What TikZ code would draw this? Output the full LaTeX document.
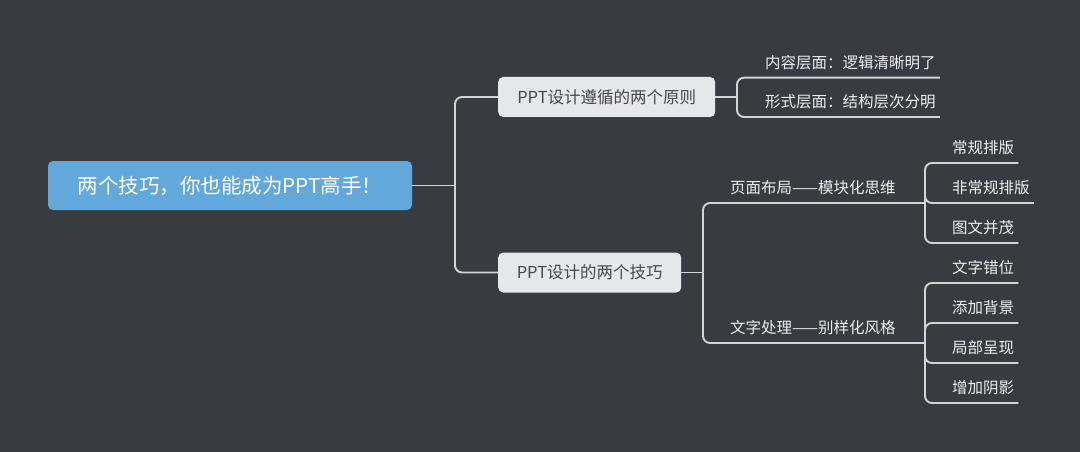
\documentclass[tikz,border=0pt]{standalone}
\usepackage{fontspec}
\setmainfont{Noto Sans CJK SC}

\definecolor{bgcolor}{HTML}{3A3B40}
\definecolor{rootblue}{HTML}{62A8DA}
\definecolor{boxgray}{HTML}{E6E7E9}
\definecolor{boxtext}{HTML}{48484B}
\definecolor{linegray}{HTML}{D4D4D4}
\definecolor{labeltext}{HTML}{EDEDED}

\tikzset{
  branch/.style={draw=linegray,line width=1.9pt,rounded corners=7pt},
  rootbox/.style={fill=rootblue,rounded corners=5pt,text=white,inner sep=0,minimum width=364pt,minimum height=49pt,font=\rootfontsize},
  topicbox/.style={fill=boxgray,rounded corners=5pt,text=boxtext,inner sep=0,minimum height=40pt,font=\topicfontsize},
  leaflabel/.style={anchor=south west,inner xsep=4pt,inner ysep=8pt,text=labeltext,font=\labelfontsize},
}

\begin{document}
\begin{tikzpicture}[x=1pt,y=-1pt]
    \providecommand{\rootfontsize}{\fontsize{20.5pt}{24pt}\selectfont}
    \providecommand{\topicfontsize}{\fontsize{16.5pt}{20pt}\selectfont}
    \providecommand{\labelfontsize}{\fontsize{15.5pt}{19pt}\selectfont}
    \fill[bgcolor] (0,0) rectangle (1080,452);
    \useasboundingbox (0,0) rectangle (1080,452);
    % main boxes
    \node[rootbox] (root) at (230,185.5) {两个技巧，你也能成为PPT高手！};
    \node[topicbox,minimum width=217pt,anchor=west] (rule) at (498,97) {PPT设计遵循的两个原则};
    \node[topicbox,minimum width=183pt,anchor=west] (tips) at (498,272.5) {PPT设计的两个技巧};
    % junctions
    \coordinate (rootj) at (455,185.5);
    \coordinate (rulej) at (737,97);
    \coordinate (tipsj) at (703,272.5);
    \coordinate (layoutj) at (925,203);
    \coordinate (textj) at (925,343);
    % labels on lines
    \node[leaflabel] (content) at (761,77.7) {内容层面：逻辑清晰明了};
    \node[leaflabel] (form) at (761,117) {形式层面：结构层次分明};
    \node[leaflabel] (layout) at (726,203) {页面布局——模块化思维};
    \node[leaflabel] (textfx) at (726,343) {文字处理——别样化风格};
    \node[leaflabel] (normal) at (948,163) {常规排版};
    \node[leaflabel] (abnormal) at (948,203) {非常规排版};
    \node[leaflabel] (picture) at (948,243) {图文并茂};
    \node[leaflabel] (offset) at (948,283) {文字错位};
    \node[leaflabel] (backdrop) at (948,323) {添加背景};
    \node[leaflabel] (partial) at (948,363) {局部呈现};
    \node[leaflabel] (shadow) at (948,403) {增加阴影};
    % connectors
    \draw[branch] (root.east) -- (rootj);
    \draw[branch] (rootj) |- (rule.west);
    \draw[branch] (rootj) |- (tips.west);
    \draw[branch] (rule.east) -- (rulej);
    \draw[branch] (rulej) |- (content.south east);
    \draw[branch] (rulej) |- (form.south east);
    \draw[branch] (tips.east) -- (tipsj);
    \draw[branch] (tipsj) |- (layoutj);
    \draw[branch] (tipsj) |- (textj);
    \draw[branch] (layoutj) |- (normal.south east);
    \draw[branch] (layoutj) |- (abnormal.south east);
    \draw[branch] (layoutj) |- (picture.south east);
    \draw[branch] (textj) |- (offset.south east);
    \draw[branch] (textj) |- (backdrop.south east);
    \draw[branch] (textj) |- (partial.south east);
    \draw[branch] (textj) |- (shadow.south east);
\end{tikzpicture}
\end{document}
